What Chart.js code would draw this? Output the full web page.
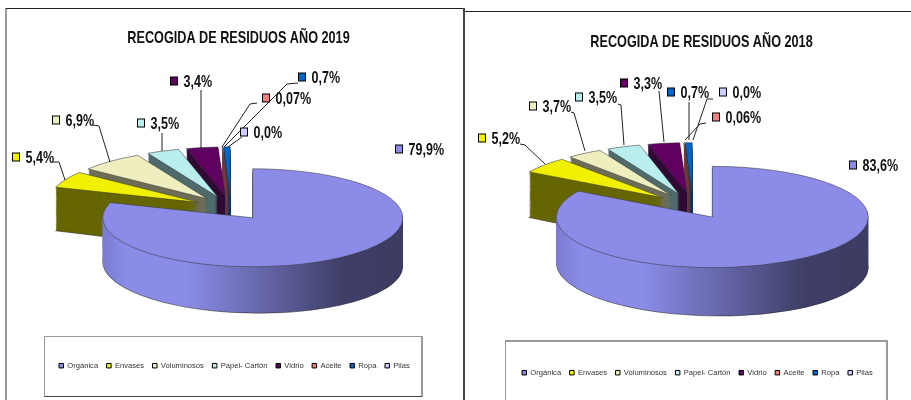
<!DOCTYPE html>
<html lang="es">
<head>
<meta charset="utf-8">
<title>Recogida de residuos</title>
<script src="https://cdn.jsdelivr.net/npm/chart.js@4"></script>
<style>
html,body{margin:0;padding:0;background:#fff;width:911px;height:400px;overflow:hidden}
.f{position:absolute;box-sizing:border-box}
canvas{position:absolute;top:0;filter:blur(.35px)}
</style>
</head>
<body>
<div class="f" style="left:5px;top:8px;width:459px;height:392px;border-top:1px solid #222;border-left:2px solid #999;"></div>
<div class="f" style="left:463px;top:8px;width:2px;height:392px;background:#444"></div>
<div class="f" style="left:465px;top:11px;width:446px;height:1px;background:#222"></div>
<div class="f" style="left:44px;top:336px;width:379px;height:61px;border:1px solid #999;border-right-width:2px;border-bottom:1px solid #444"></div>
<div class="f" style="left:505px;top:340px;width:383px;height:60px;border:2px solid #999;border-bottom:none;border-left-width:1px"></div>
<canvas id="c2019" style="left:0" width="465" height="400"></canvas>
<canvas id="c2018" style="left:465px" width="446" height="400"></canvas>
<script>
const categories = ['Orgánica','Envases','Voluminosos','Papel- Cartón','Vidrio','Aceite','Ropa','Pilas'];
const values2019 = [79.9,5.4,6.9,3.5,3.4,0.07,0.7,0.0];
const values2018 = [83.6,5.2,3.7,3.5,3.3,0.06,0.7,0.0];
const topColors  = ['#8C8CE8','#F0F000','#EEEEBE','#BAEEEE','#600060','#F08080','#0066CC','#CCCCFF'];
const wallColors = ['#3E3E66','#666600','#6E6E58','#4F6B6B','#2E0A35','#7A3A3A','#003A6B','#55556B'];

function pctText(v){
  return (v>0 && v<0.1 ? v.toFixed(2) : v.toFixed(1)).replace('.',',')+'%';
}

const pie3d = {
  id:'pie3d',
  beforeDatasetsDraw(chart){
    const o = chart.options.plugins.pie3d, ctx = chart.ctx, meta = chart.getDatasetMeta(0);
    const cx = o.cx-o.originX;
    // painter's order: far slices first, the large first slice last
    const order = [6,7,5,4,3,2,1,0];
    order.forEach(i=>{
      const arc = meta.data[i], base = arc.options;
      const place = d=>{
        const B = d*o.skew;
        ctx.transform(1,B,0,o.tilt,cx-arc.x,o.cy+d-o.tilt*arc.y-B*arc.x);
        const h=(arc.startAngle+arc.endAngle)/2;
        ctx.translate(Math.cos(h)*o.explode,Math.sin(h)*o.explode);
      };
      let wall = wallColors[i];
      if(i===0){
        const R=arc.outerRadius, g=ctx.createLinearGradient(arc.x-R,0,arc.x+R,0);
        g.addColorStop(0,'#7A7BD0');g.addColorStop(.08,'#8B8CE8');g.addColorStop(.275,'#8B8CE8');
        g.addColorStop(.8,'#3E3E66');g.addColorStop(1,'#3C3C63');
        wall=g;
      }
      for(let d=o.depth;d>=1;d--){
        ctx.save();place(d);
        arc.options={...base,backgroundColor:wall,borderWidth:d===o.depth?.8:0,borderColor:'#222'};
        arc.draw(ctx);ctx.restore();
      }
      ctx.save();place(0);
      arc.options={...base,borderWidth:.8,borderColor:'#333'};
      arc.draw(ctx);ctx.restore();
      arc.options=base;
    });
    return false;
  },
  afterDraw(chart){
    const o = chart.options.plugins.pie3d, ctx = chart.ctx, vals = chart.data.datasets[0].data;
    ctx.save();
    ctx.translate(-o.originX,0);
    o.leaders.forEach(pts=>{
      ctx.beginPath();pts.forEach((p,j)=>j?ctx.lineTo(p[0],p[1]):ctx.moveTo(p[0],p[1]));
      ctx.strokeStyle='#222';ctx.lineWidth=1;ctx.stroke();
    });
    ctx.textBaseline='middle';ctx.textAlign='left';
    ctx.font=o.labelFont;
    o.labels.forEach((l,i)=>{
      ctx.fillStyle=topColors[i];ctx.strokeStyle='#000';ctx.lineWidth=1;
      ctx.fillRect(l[0]-3.5,l[1]-4,7,8);ctx.strokeRect(l[0]-3.5,l[1]-4,7,8);
      ctx.save();
      ctx.translate(l[0]+9.5,l[1]+1);ctx.scale(o.squeeze,1);
      ctx.fillStyle='#111';
      ctx.fillText(pctText(vals[i]),0,0);
      ctx.restore();
    });
    ctx.restore();
  }
};

function build(id,year,values,cfg){
  const chart = new Chart(document.getElementById(id),{
    type:'pie',
    data:{labels:categories,datasets:[{data:values,backgroundColor:topColors,borderColor:'#222',borderWidth:.8}]},
    plugins:[pie3d],
    options:{
      responsive:false,animation:false,radius:cfg.R,
      layout:{padding:cfg.pad},
      plugins:{
        tooltip:{enabled:false},
        title:{display:true,text:'RECOGIDA DE RESIDUOS AÑO '+year,color:'#111',
          font:{family:'"Liberation Sans"',size:17,weight:'bold'},padding:{top:cfg.titleTop,bottom:0}},
        legend:{position:'bottom',align:'start',
          labels:{boxWidth:4.5,boxHeight:4.5,padding:cfg.legPad,color:'#333',
            font:{family:'"Liberation Sans"',size:7.6},
            generateLabels(c){
              return Chart.overrides.pie.plugins.legend.labels.generateLabels(c)
                .map(l=>({...l,strokeStyle:'#000',lineWidth:1}));
            }}},
        pie3d:cfg
      }
    }
  });
  // the reference title is a horizontally squeezed bold face: keep the library's title, squeeze when drawn
  const tb = chart.titleBlock, drawTitle = tb.draw;
  tb.draw = function(...a){
    const ctx=this.ctx, mid=this.left+this.width/2, tx=cfg.titleX-cfg.originX;
    ctx.save();ctx.translate(tx,0);ctx.scale(cfg.titleSqueeze,1);ctx.translate(-mid,0);
    drawTitle.apply(this,a);ctx.restore();
  };
  chart.draw();
  return chart;
}

build('c2019','2019',values2019,{
  originX:0,cx:231,cy:208,R:150,tilt:.327,explode:37,depth:46,skew:.0003,titleTop:28,legPad:8.5,
  titleX:238.5,titleSqueeze:.745,squeeze:.76,
  pad:{left:50.5,right:5,top:0,bottom:20.5},
  labelFont:'bold 16.5px "Liberation Sans"',
  labels:[[399,149],[16,157],[56,120],[141,123],[174,81],[266,98],[302,77],[244,132]],
  leaders:[[[53,162],[59,162],[65,180]],[[93,125],[99,126],[110,162]],[[162,133],[162,151]],[[201,90],[201,148]],
    [[257,103],[250,104],[222,147]],[[298,83],[287,84],[224,147]],[[242,137],[228,147]]]
});
build('c2018','2018',values2018,{
  originX:465,cx:693,cy:206,R:156,tilt:.325,explode:39,depth:48,skew:.0003,titleTop:32,legPad:8.5,
  titleX:701.5,titleSqueeze:.745,squeeze:.76,
  pad:{left:48.5,right:4,top:0,bottom:13.5},
  labelFont:'bold 16.5px "Liberation Sans"',
  labels:[[853,165],[482,138],[533,106],[579,97],[624,83],[716,117],[671,92],[723,92]],
  leaders:[[[520,144],[525,145],[545,164]],[[571,112],[574,113],[585,151]],[[618,104],[621,105],[624,145]],[[659,91],[664,142]],
    [[689,102],[689,140]],[[713,99],[707,99],[693,140]],[[706,123],[700,124],[685,140]]]
});
</script>
</body>
</html>
